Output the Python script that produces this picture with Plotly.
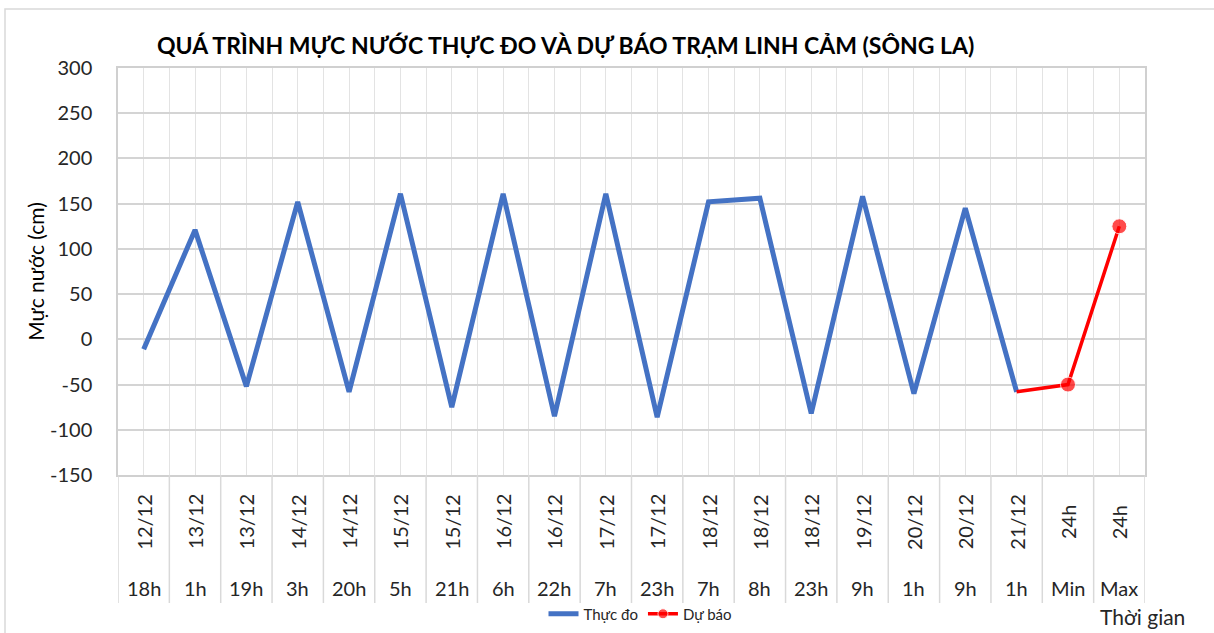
"""
plot.py — Mực nước thực đo và dự báo trạm Linh Cảm (sông La)
"""
import plotly.graph_objects as go

# Data
ngay = ["12/12", "13/12", "13/12", "14/12", "14/12", "15/12", "15/12", "16/12",
        "16/12", "17/12", "17/12", "18/12", "18/12", "18/12", "19/12", "20/12",
        "20/12", "21/12", "24h", "24h"]
gio = ["18h", "1h", "19h", "3h", "20h", "5h", "21h", "6h", "22h", "7h", "23h",
       "7h", "8h", "23h", "9h", "1h", "9h", "1h", "Min", "Max"]

thuc_do = [-11, 121, -52, 152, -58, 161, -75, 161, -85, 161, -86,
           152, 156, -82, 158, -60, 145, -58]
du_bao_idx = [17, 18, 19]
du_bao = [-58, -50, 125]

y_ticks = [-150, -100, -50, 0, 50, 100, 150, 200, 250, 300]
y_text = ["-150", "-100", "-50", "0", "50", "100", "150", "200", "250", "300"]

# figure pixel geometry (Excel-like layout)
W, H = 1214, 633
L, R, T, B = 118, 1145, 68, 475


def px_x(p):
    return (p - L) / (R - L)


def px_y(p):
    return (B - p) / (B - T)


FONT = "Lato"
TXT = "#262626"
n = len(gio)
idx = list(range(n))

fig = go.Figure()
fig.add_trace(go.Scatter(
    x=idx[:len(thuc_do)], y=thuc_do, name="Thực đo", mode="lines",
    line=dict(color="#4472C4", width=5),
))
fig.add_trace(go.Scatter(
    x=du_bao_idx, y=du_bao, name="Dự báo", mode="lines+markers",
    line=dict(color="#FF0000", width=3.5),
    marker=dict(color="#FF0000", size=[0, 15, 15]),
))

shapes = []
# category separators below the plot area
for k in range(n + 1):
    shapes.append(dict(type="line", xref="x", yref="paper",
                       x0=k - 0.5, x1=k - 0.5, y0=0, y1=px_y(603),
                       line=dict(color="#d9d9d9", width=1.5)))
# chart area border
shapes.append(dict(type="rect", xref="paper", yref="paper",
                   x0=px_x(5), x1=px_x(1230), y0=px_y(9), y1=px_y(650),
                   line=dict(color="#d9d9d9", width=1.5), layer="below"))

annotations = []
for i in idx:
    annotations.append(dict(x=i, y=px_y(522), xref="x", yref="paper",
                            text=ngay[i], textangle=-90, showarrow=False,
                            yanchor="middle", xanchor="center",
                            font=dict(family=FONT, size=20, color=TXT)))
    annotations.append(dict(x=i, y=px_y(588), xref="x", yref="paper",
                            text=gio[i], showarrow=False,
                            yanchor="middle", xanchor="center",
                            font=dict(family=FONT, size=20, color=TXT)))
annotations.append(dict(x=px_x(1142), y=px_y(616), xref="paper", yref="paper",
                        text="Thời gian", showarrow=False,
                        yanchor="middle", xanchor="center",
                        font=dict(family=FONT, size=21, color=TXT)))
annotations.append(dict(x=px_x(565), y=px_y(45), xref="paper", yref="paper",
                        text="<b>QUÁ TRÌNH MỰC NƯỚC THỰC ĐO VÀ DỰ BÁO TRẠM LINH CẢM (SÔNG LA)</b>",
                        showarrow=False, yanchor="middle", xanchor="center",
                        font=dict(family=FONT, size=23, color="#000000")))

fig.update_layout(
    width=W, height=H,
    margin=dict(l=L, r=W - R, t=T, b=H - B),
    plot_bgcolor="white", paper_bgcolor="white",
    font=dict(family=FONT, size=20, color=TXT),
    showlegend=True,
    legend=dict(orientation="h", xref="container", yref="container",
                x=640 / W, xanchor="center", y=1 - 614 / H, yanchor="middle",
                font=dict(family=FONT, size=15, color=TXT),
                bgcolor="rgba(0,0,0,0)"),
    shapes=shapes,
    annotations=annotations,
)
fig.update_xaxes(
    range=[-0.5, n - 0.5], tick0=-0.5, dtick=0.5, showticklabels=False,
    showgrid=True, gridcolor="#e3e3e3", gridwidth=1.2, zeroline=False,
    showline=True, linecolor="#d0d0d0", linewidth=1.5, mirror=True,
)
fig.update_yaxes(
    range=[-150, 300], tickvals=y_ticks, ticktext=y_text,
    showgrid=True, gridcolor="#d4d4d4", gridwidth=1.5,
    zeroline=False, showline=True, linecolor="#d0d0d0", linewidth=1.5, mirror=True,
    ticks="", ticklabelstandoff=20,
    tickfont=dict(family=FONT, size=20, color=TXT),
    title=dict(text="Mực nước (cm)", standoff=0,
               font=dict(family=FONT, size=21, color="#000000")),
)

# drop the default page margin so the figure sits at the window's corner
fig.write_html("out.html", config={"displayModeBar": False},
               post_script="document.body.style.margin='0px';")
